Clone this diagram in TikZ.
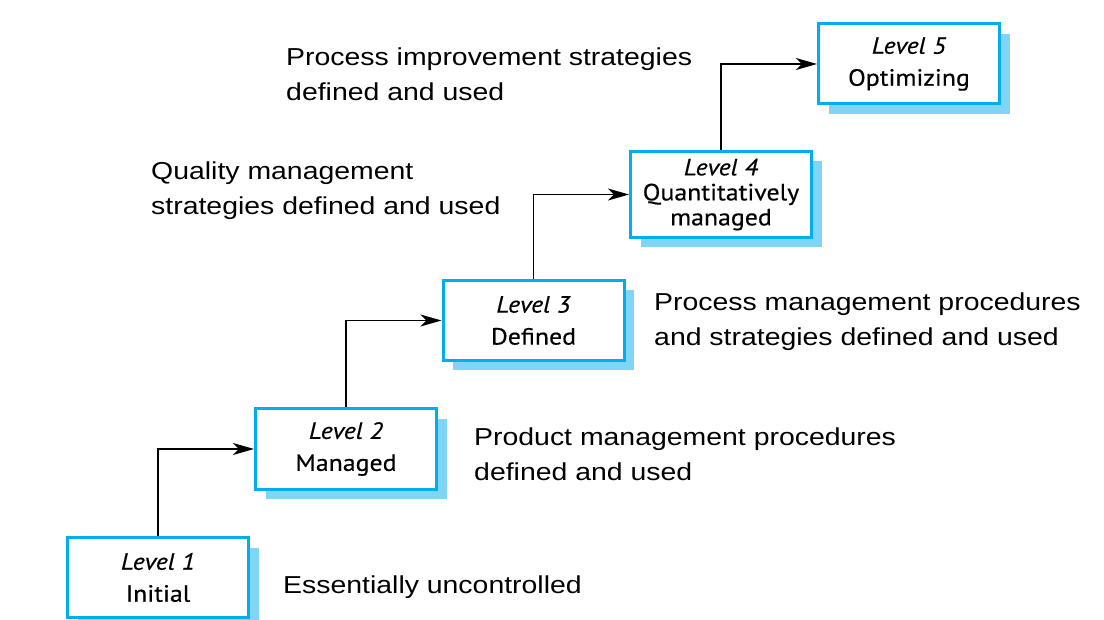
\documentclass[tikz,border=0pt]{standalone}
\usepackage{fontspec}
\setmainfont{Liberation Sans}[FakeStretch=1.16]
\newfontfamily\boxfont{PT Sans}[FakeStretch=1.1,FakeBold=0.4]
\usetikzlibrary{arrows.meta,shadows}
\definecolor{boxblue}{RGB}{0,174,239}
\definecolor{shadowblue}{RGB}{128,213,246}
\begin{document}
\begin{tikzpicture}[x=1pt,y=-1pt,
  levelbox/.style={draw=boxblue,line width=3pt,fill=white,
    minimum width=181pt,minimum height=80pt,inner sep=0pt,align=center,
    font={\boxfont\fontsize{23.5}{32}\selectfont},
    drop shadow={shadow xshift=10pt,shadow yshift=-10pt,opacity=1,fill=shadowblue}},
  desc/.style={anchor=north west,inner sep=0pt,align=left,
    font={\fontsize{24.5}{35}\selectfont}},
  arr/.style={draw=black,line width=1.3pt,-{Stealth[length=21pt,width=12pt,inset=6pt]}}]
\useasboundingbox (0,0) rectangle (1104,620);

\node[levelbox] (l1) at (158,577.5) {\textit{Level 1}\\Initial};
\node[levelbox] (l2) at (346,449) {\textit{Level 2}\\Managed};
\node[levelbox] (l3) at (533.5,320.5) {\textit{Level 3}\\Defined};
\node[levelbox,minimum height=86pt,font={\boxfont\fontsize{23.5}{25}\selectfont}] (l4) at (721,194.5) {\textit{Level 4}\\Quantitatively\\managed};
\node[levelbox] (l5) at (909,64) {\textit{Level 5}\\Optimizing};

\draw[arr] (l1.north) |- (l2.west);
\draw[arr] (l2.north) |- (l3.west);
\draw[arr] (l3.north) |- (l4.west);
\draw[arr] (l4.north) |- (l5.west);

\node[desc] (d5) at (286,47.5) {Process improvement strategies\\defined and used};
\node[desc] (d4) at (151,161.5) {Quality management\\strategies defined and used};
\node[desc] (d3) at (654,292.5) {Process management procedures\\and strategies defined and used};
\node[desc] (d2) at (474,427.5) {Product management procedures\\defined and used};
\node[desc] (d1) at (283,575.5) {Essentially uncontrolled};
\end{tikzpicture}
\end{document}
